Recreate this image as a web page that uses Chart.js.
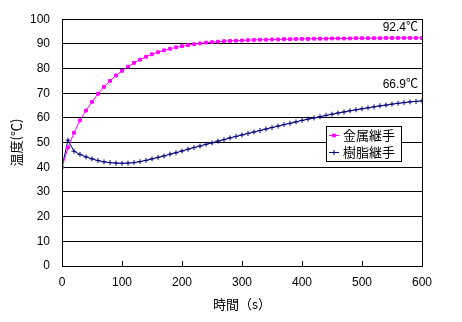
<!DOCTYPE html>
<html>
<head>
<meta charset="utf-8">
<script src="https://cdn.jsdelivr.net/npm/chart.js@4.4.0/dist/chart.umd.min.js"></script>
<style>
  html, body { margin: 0; padding: 0; background: #fff; }
  #wrap { width: 462px; height: 322px; }
</style>
</head>
<body>
<div id="wrap"><canvas id="chart1" width="462" height="322"></canvas></div>
<script>
// 時間 (s)
const times = [0, 10, 20, 30, 40, 50, 60, 70, 80, 90, 100, 110, 120, 130, 140, 150, 160, 170, 180, 190,
    200, 210, 220, 230, 240, 250, 260, 270, 280, 290, 300, 310, 320, 330, 340, 350, 360, 370, 380, 390,
    400, 410, 420, 430, 440, 450, 460, 470, 480, 490, 500, 510, 520, 530, 540, 550, 560, 570, 580, 590, 600];

// 金属継手
const metal = [40, 48, 54, 59, 63, 66.5, 69.8, 72.6, 75, 77.2, 79.1, 80.8, 82.3, 83.6, 84.8, 85.8, 86.6, 87.4, 88, 88.6,
    89.1, 89.5, 89.9, 90.2, 90.5, 90.7, 90.9, 91.1, 91.2, 91.3, 91.4, 91.5, 91.6, 91.7, 91.7, 91.8, 91.8, 91.9, 91.9, 92.0,
    92.0, 92.0, 92.1, 92.1, 92.1, 92.2, 92.2, 92.2, 92.2, 92.3, 92.3, 92.3, 92.3, 92.3, 92.4, 92.4, 92.4, 92.4, 92.4, 92.4, 92.4];

// 樹脂継手
const resin = [40, 51, 46.5, 45.2, 44.2, 43.4, 42.7, 42.2, 41.9, 41.7, 41.6, 41.7, 41.9, 42.3, 42.8, 43.4, 44, 44.6, 45.3, 45.9,
    46.6, 47.3, 48, 48.6, 49.3, 49.9, 50.6, 51.2, 51.9, 52.5, 53.1, 53.7, 54.3, 54.9, 55.5, 56.1, 56.7, 57.3, 57.8, 58.4,
    59, 59.5, 60, 60.5, 61, 61.5, 62, 62.4, 62.9, 63.3, 63.7, 64.1, 64.5, 64.9, 65.2, 65.6, 65.9, 66.2, 66.5, 66.7, 66.9];

const endLabels = ["92.4℃", "66.9℃"];
const seriesNames = ["金属継手", "樹脂継手"];

const numFont = "'Liberation Sans', 'Noto Sans CJK JP', sans-serif";
const jpFont = "'Noto Sans CJK JP', sans-serif";

function toPoints(ys) {
    return times.map((t, i) => ({ x: t, y: ys[i] }));
}

// cadre, graduations internes de l'axe x, étiquettes de fin, légende
const extras = {
    id: 'extras',
    afterDraw(chart) {
        const ctx = chart.ctx;
        const a = chart.chartArea;
        const xs = chart.scales.x;
        ctx.save();

        ctx.strokeStyle = '#000';
        ctx.lineWidth = 1;
        ctx.strokeRect(Math.round(a.left) + 0.5, Math.round(a.top) + 0.5,
            Math.round(a.right - a.left), Math.round(a.bottom - a.top));

        ctx.beginPath();
        xs.ticks.forEach(t => {
            const px = Math.round(xs.getPixelForValue(t.value)) + 0.5;
            ctx.moveTo(px, a.bottom);
            ctx.lineTo(px, a.bottom - 5);
        });
        ctx.stroke();

        // étiquettes de fin
        ctx.font = '12px ' + numFont;
        ctx.fillStyle = '#000';
        ctx.textAlign = 'right';
        ctx.textBaseline = 'middle';
        chart.data.datasets.forEach((ds, i) => {
            const meta = chart.getDatasetMeta(i);
            const last = meta.data[meta.data.length - 1];
            ctx.fillText(endLabels[i], last.x - 4, last.y - ds.labelRaise);
        });

        // légende
        const lx = 326, ly = 126, lw = 75, lh = 35;
        ctx.fillStyle = '#fff';
        ctx.fillRect(lx, ly, lw, lh);
        ctx.strokeRect(lx + 0.5, ly + 0.5, lw, lh);
        ctx.font = '13px ' + jpFont;
        ctx.textAlign = 'left';
        chart.data.datasets.forEach((ds, i) => {
            const cy = ly + 9.5 + i * 17;
            ctx.strokeStyle = ds.borderColor;
            ctx.fillStyle = ds.borderColor;
            ctx.beginPath();
            ctx.moveTo(lx + 3, cy);
            ctx.lineTo(lx + 13, cy);
            ctx.stroke();
            Chart.helpers.drawPoint(ctx, {
                pointStyle: ds.pointStyle, radius: ds.pointRadius, borderWidth: 1, rotation: 0
            }, lx + 8, cy);
            ctx.fillStyle = '#000';
            ctx.fillText(seriesNames[i], lx + 17, cy);
        });
        ctx.restore();
    }
};

const ctx = document.getElementById("chart1").getContext('2d');
const chart = new Chart(ctx, {
    type: 'line',
    data: {
        datasets: [{
            label: seriesNames[0],
            data: toPoints(metal),
            borderColor: '#FF00FF',
            backgroundColor: '#FF00FF',
            borderWidth: 1,
            pointStyle: 'rect',
            pointRadius: 2,
            pointBorderWidth: 1,
            labelRaise: 10,
            tension: 0
        }, {
            label: seriesNames[1],
            data: toPoints(resin),
            borderColor: '#000080',
            backgroundColor: '#000080',
            borderWidth: 1,
            pointStyle: 'cross',
            pointRadius: 2.5,
            pointBorderWidth: 1,
            labelRaise: 16,
            tension: 0
        }]
    },
    options: {
        responsive: false,
        animation: false,
        layout: { padding: { top: 16, right: 40, left: 0, bottom: 0 } },
        plugins: {
            legend: { display: false },
            tooltip: { enabled: false }
        },
        scales: {
            x: {
                type: 'linear',
                min: 0, max: 600,
                ticks: { stepSize: 100, color: '#000', padding: 9, font: { family: numFont, size: 12 } },
                grid: { display: false, drawTicks: false },
                border: { color: '#000' },
                title: { display: true, text: '時間（s）', color: '#000', padding: { top: 2, bottom: 10 }, font: { family: jpFont, size: 13 } },
                afterFit: s => { s.height = 56; }
            },
            y: {
                min: 0, max: 100,
                ticks: { stepSize: 10, color: '#000', padding: 12, font: { family: numFont, size: 12 } },
                grid: { color: '#000', lineWidth: 1, drawTicks: false },
                border: { color: '#000' },
                title: { display: true, text: '温度(℃)', color: '#000', padding: { top: 8, bottom: 0 }, font: { family: jpFont, size: 13 } },
                afterFit: s => { s.width = 62; }
            }
        }
    },
    plugins: [extras]
});
</script>
</body>
</html>
